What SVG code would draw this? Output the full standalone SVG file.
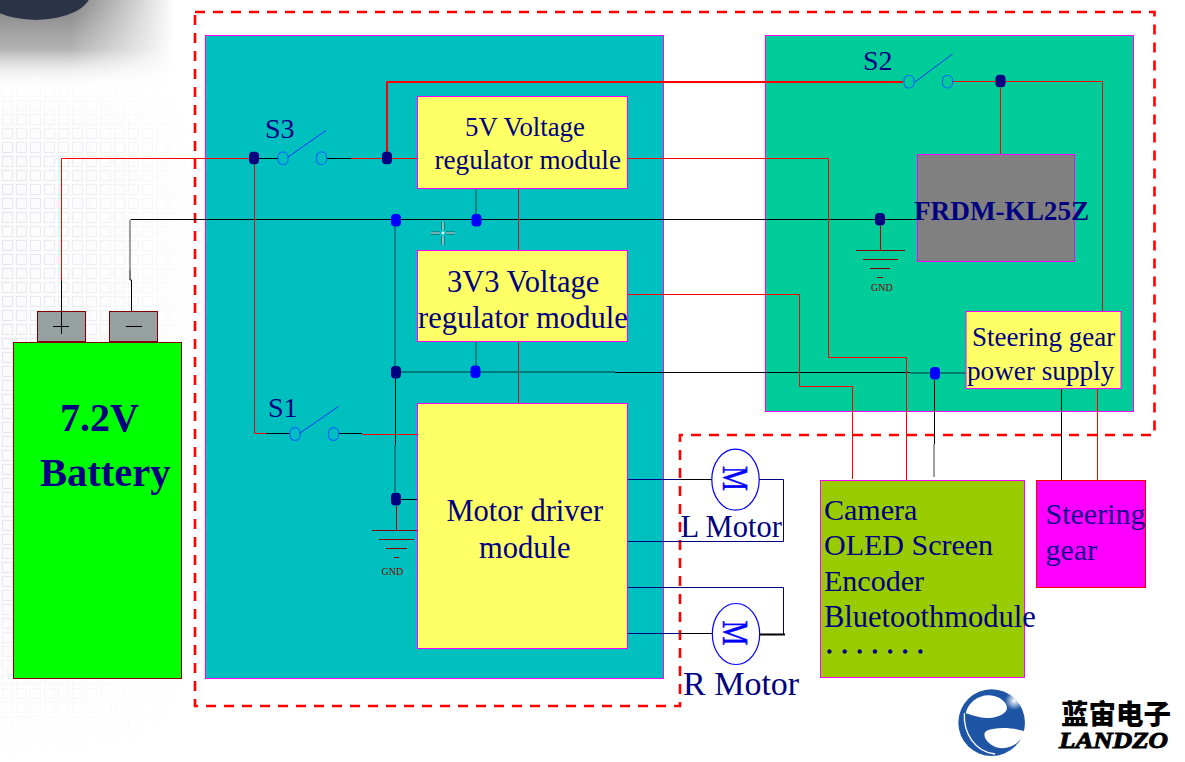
<svg xmlns="http://www.w3.org/2000/svg" width="1185" height="762" viewBox="0 0 1185 762">
<style>
.t{font-family:"Liberation Serif","Times New Roman",serif;fill:#000080}
.b{font-weight:bold}
.w{fill:none;stroke-width:1;stroke-linejoin:miter}
.r{stroke:#f00}.k{stroke:#000}.n{stroke:#000080}.d{stroke:#006666}.g{stroke:#808080}.m{stroke:#800000}
.box{stroke:#f0f;stroke-width:1}
.y{fill:#ff6}
.c{fill:none;stroke:#0066ff;stroke-width:1.2}
.bl{stroke:#0033ff;stroke-width:1;fill:none}
.dn{fill:#000080}.db{fill:#0000ff}
.term{fill:#96a0a0;stroke:#800000;stroke-width:1}
.gnd{font-size:10px;fill:#800000}
.mo{fill:#fff;stroke:#0000ff;stroke-width:1.2}
.ml{font-family:"Liberation Serif",serif;font-size:35px;fill:#0000ff;stroke:#0000ff;stroke-width:.5}
</style>
<defs>
<pattern id="grid" width="14" height="14" patternUnits="userSpaceOnUse"><rect x="2.5" y="2.5" width="10" height="10" fill="none" stroke="#e6e6ee" stroke-width="1"/></pattern>
<linearGradient id="fx" x1="0" x2="1" y1="0" y2="0"><stop offset="0" stop-color="#fff"/><stop offset=".5" stop-color="#999"/><stop offset="1" stop-color="#000"/></linearGradient>
<linearGradient id="fy" x1="0" x2="0" y1="0" y2="1"><stop offset="0" stop-color="#000"/><stop offset=".1" stop-color="#000"/><stop offset=".2" stop-color="#fff"/><stop offset=".75" stop-color="#fff"/><stop offset="1" stop-color="#000"/></linearGradient>
<mask id="fade"><rect width="200" height="762" fill="url(#fx)"/></mask>
<mask id="fadeY"><rect width="200" height="760" fill="url(#fy)"/></mask>
<linearGradient id="tg" x1="0" x2="0" y1="0" y2="1"><stop offset="0" stop-color="#808080"/><stop offset=".55" stop-color="#b4b4b4"/><stop offset="1" stop-color="#fff" stop-opacity="0"/></linearGradient>
<linearGradient id="tx" x1="0" x2="1" y1="0" y2="0"><stop offset="0" stop-color="#fff"/><stop offset=".4" stop-color="#fff"/><stop offset="1" stop-color="#000"/></linearGradient>
<mask id="tm"><rect width="175" height="90" fill="url(#tx)"/></mask>
<radialGradient id="hl"><stop offset="0" stop-color="#fff"/><stop offset="1" stop-color="#fff" stop-opacity="0"/></radialGradient>
<rect id="sw" width="10" height="12.5" rx="4.5"/>
</defs>

<g id="background">
<rect width="1185" height="762" fill="#fff"/>
<g mask="url(#fadeY)">
<rect width="200" height="762" fill="#fbfbfe" mask="url(#fade)"/>
<rect y="28" width="200" height="732" fill="url(#grid)" mask="url(#fade)"/>
</g>
<rect width="175" height="90" fill="url(#tg)" mask="url(#tm)"/>
<ellipse cx="36" cy="-8" rx="55" ry="28" fill="#2b3346"/>
</g>

<path id="boundary" d="M195,12H1154.5V435H680V706H195Z" fill="none" stroke="#f00" stroke-width="2.6" stroke-dasharray="10 8"/>

<g id="panel-main"><rect class="box" x="205.5" y="35.5" width="458" height="643" fill="#00bfbf"/></g>
<g id="panel-mcu"><rect class="box" x="765.5" y="35.5" width="368" height="376" fill="#00cc99"/></g>

<g id="connectors">
<path class="w r" d="M61.5,281V158.5H250"/>
<path class="w k" d="M61.5,281V334"/>
<path class="w k" d="M259,158.5H278M327,158.5H351"/>
<path class="w r" d="M351,158.5H417.5"/>
<path class="w r" style="stroke-width:2" d="M387,152V82H903"/>
<path class="w r" d="M953,81.5H1102.5V312"/>
<path class="w r" d="M1000.5,88V158"/>
<path class="w k" d="M130.5,219.5H917"/>
<path class="w g" style="stroke-width:1.5" d="M130,220V270"/>
<path class="w k" d="M130,270V280H131.5V311"/>
<path class="w r" d="M254.5,164V433.5H266"/>
<path class="w k" d="M266,433.5H290M339,433.5H362"/>
<path class="w r" d="M362,434.5H417.5"/>
<path class="w r" d="M518.5,188.5V250.5M518.5,341.5V403.5"/>
<path class="w d" style="stroke-width:1.3" d="M476,188.5V214M476,341.5V366M395,226V372M396,372H615"/>
<path class="w k" d="M395.5,372V445"/>
<path class="w d" style="stroke-width:1.3" d="M395,445V492"/>
<path class="w k" d="M401,499.5H417.5"/>
<path class="w k" d="M615,372.5H910"/>
<path class="w d" style="stroke-width:1.3" d="M910,373H966"/>
<path class="w k" d="M934.5,380V444"/>
<path class="w g" style="stroke-width:1.5" d="M934,444V477"/>
<path class="w r" d="M627.5,158.5H828.5V357.5H906.5V480.5"/>
<path class="w r" d="M627.5,294.5H799.5V386.5H852.5V479"/>
<path class="w k" d="M1061.5,388.5V482"/>
<path class="w r" d="M1097.5,388.5V480.5"/>
<path class="w n" d="M627.5,479.5H680M627.5,541.5H783.5V479.5H759"/>
<path class="w k" d="M680,479.5H712"/>
<path class="w n" d="M627.5,587.5H783.5V634M627.5,633.5H680"/>
<path class="w k" d="M680,633.5H712"/>
<path class="w k" style="stroke-width:2" d="M759,634.5H785"/>
<path class="w m" style="stroke:#c00000" d="M396.5,506V530M880.5,226V250"/>
</g>

<g id="battery">
<rect class="term" x="37.5" y="311.5" width="48" height="30"/>
<rect class="term" x="109.5" y="311.5" width="48" height="30"/>
<path class="w k" d="M53,326.5H69M61.5,312V334M126,326.5H142"/>
<rect x="13.5" y="342.5" width="168" height="336" fill="#0f0" stroke="#800000"/>
<text class="t b" x="60" y="431" font-size="40">7.2V</text>
<text class="t b" x="40" y="486" font-size="40.5">Battery</text>
</g>

<g id="switch-s3">
<text class="t" x="265" y="137.5" font-size="28">S3</text>
<use href="#sw" class="c" x="278" y="152"/><use href="#sw" class="c" x="316.5" y="152"/>
<path class="bl" d="M288,157L326,130.5"/>
</g>
<g id="switch-s1">
<text class="t" x="268" y="417" font-size="28">S1</text>
<use href="#sw" class="c" x="290" y="427.8"/><use href="#sw" class="c" x="328.5" y="427.8"/>
<path class="bl" d="M300,433L338.5,406.5"/>
</g>
<g id="switch-s2">
<text class="t" x="863" y="69.5" font-size="28">S2</text>
<use href="#sw" class="c" x="904" y="75.5"/><use href="#sw" class="c" x="942.5" y="75.5"/>
<path class="bl" d="M915,82L952.5,54"/>
</g>

<g id="junctions">
<rect class="dn" x="249" y="151.7" width="10" height="12.6" rx="4"/>
<rect class="dn" x="382" y="151.7" width="10" height="12.6" rx="4"/>
<rect class="dn" x="995.5" y="74.7" width="10" height="12.6" rx="4"/>
<rect class="dn" x="875" y="213" width="10" height="12.6" rx="4"/>
<rect class="dn" x="391" y="366" width="10" height="12.6" rx="4"/>
<rect class="dn" x="391" y="492.8" width="10" height="12.6" rx="4"/>
<rect class="db" x="391" y="214" width="10" height="12.6" rx="4"/>
<rect class="db" x="471.5" y="214" width="10" height="12.6" rx="4"/>
<rect class="db" x="470.5" y="365.5" width="10" height="12.6" rx="4"/>
<rect class="db" x="930" y="367" width="10" height="12.6" rx="4"/>
</g>

<g id="gnd-left">
<path class="w m" d="M372,530.5H417M379,539.5H414M386,548.5H407M394,557.5H399"/>
<text class="t gnd" x="381.5" y="575">GND</text>
</g>
<g id="gnd-right">
<path class="w m" d="M856,250.5H905M863,259.5H898M870,268.5H890M877,277.5H883"/>
<text class="t gnd" x="871" y="291">GND</text>
</g>

<g id="reg-5v">
<rect class="box y" x="417.5" y="96.5" width="210" height="92"/>
<text class="t" x="465" y="136" font-size="26.8">5V Voltage</text>
<text class="t" x="434.5" y="168.5" font-size="27.2">regulator module</text>
</g>
<g id="reg-3v3">
<rect class="box y" x="417.5" y="250.5" width="210" height="91"/>
<text class="t" x="447" y="292" font-size="30.5">3V3 Voltage</text>
<text class="t" x="418" y="327.5" font-size="30.6">regulator module</text>
</g>
<g id="motor-driver">
<rect class="box y" x="417.5" y="403.5" width="210" height="245"/>
<text class="t" x="446.5" y="520.5" font-size="30.5">Motor driver</text>
<text class="t" x="479" y="557.5" font-size="30.5">module</text>
</g>
<g id="frdm">
<rect class="box" x="917.5" y="154.5" width="157" height="107" fill="#808080"/>
<text class="t b" x="914" y="220" font-size="27.2">FRDM-KL25Z</text>
</g>
<g id="steering-supply">
<rect class="box y" x="966" y="311.5" width="155" height="77"/>
<text class="t" x="972" y="346" font-size="27">Steering gear</text>
<text class="t" x="967" y="379.5" font-size="27.2">power supply</text>
</g>
<g id="peripherals">
<rect class="box" x="820.5" y="480.5" width="204" height="197" fill="#9c0"/>
<text class="t" x="824" y="519.5" font-size="30">Camera</text>
<text class="t" x="824" y="555" font-size="30">OLED Screen</text>
<text class="t" x="824" y="591" font-size="30">Encoder</text>
<text class="t" x="824" y="627" font-size="30.5">Bluetoothmodule</text>
<text class="t" x="825" y="659.5" font-size="26" stroke="#000080" stroke-width="1.3">· · · · · · ·</text>
</g>
<g id="steering-gear">
<rect x="1036.5" y="480.5" width="109" height="107" fill="#f0f" stroke="#f00"/>
<text class="t" style="fill:#14008f" x="1045.5" y="523.5" font-size="30">Steering</text>
<text class="t" style="fill:#14008f" x="1045.5" y="559.5" font-size="30">gear</text>
</g>

<g id="motor-l">
<ellipse class="mo" cx="735.5" cy="479.7" rx="23.7" ry="30.5"/>
<text class="ml" transform="translate(723,466) rotate(90)" textLength="25" lengthAdjust="spacingAndGlyphs">M</text>
<text class="t" x="680.5" y="537" font-size="30.5">L Motor</text>
</g>
<g id="motor-r">
<ellipse class="mo" cx="736" cy="634" rx="23.7" ry="30.5"/>
<text class="ml" transform="translate(723,620.5) rotate(90)" textLength="25" lengthAdjust="spacingAndGlyphs">M</text>
<text class="t" x="683" y="695" font-size="34">R Motor</text>
</g>

<g id="cursor" fill="none">
<path stroke="#0b5f63" stroke-width="3.2" d="M431,233H440M446,233H455M443,222V230M443,236V245"/>
<path stroke="#d8ffff" stroke-width="1.2" d="M431,233H440M446,233H455M443,222V230M443,236V245"/>
<circle cx="443" cy="233" r="1.4" fill="#fff"/>
</g>

<g id="logo">
<g transform="translate(945,680) scale(.3333)">
<circle cx="140" cy="128" r="100" fill="#1f55a5"/>
<path fill="#fff" d="M62,100C70,60 120,30 165,55C185,68 192,85 180,97C165,112 130,118 105,112C90,108 72,103 62,100Z"/>
<path fill="#fff" d="M240,155C200,140 150,142 125,152C112,160 118,180 140,195C165,212 195,205 215,190C228,178 235,165 240,155Z"/>
<path fill="none" stroke="#fff" stroke-width="4" d="M58,100C55,160 90,215 150,222"/>
<circle cx="208" cy="62" r="28" fill="url(#hl)"/>
</g>
<text x="1061" y="724" font-family="'Noto Sans CJK SC',sans-serif" font-weight="900" font-size="27.5" fill="#000" textLength="110">蓝宙电子</text>
<text x="1059" y="748" font-family="'Liberation Serif',serif" font-weight="bold" font-style="italic" font-size="24" fill="#000" stroke="#000" stroke-width="1" textLength="109" lengthAdjust="spacingAndGlyphs">LANDZO</text>
</g>
</svg>
